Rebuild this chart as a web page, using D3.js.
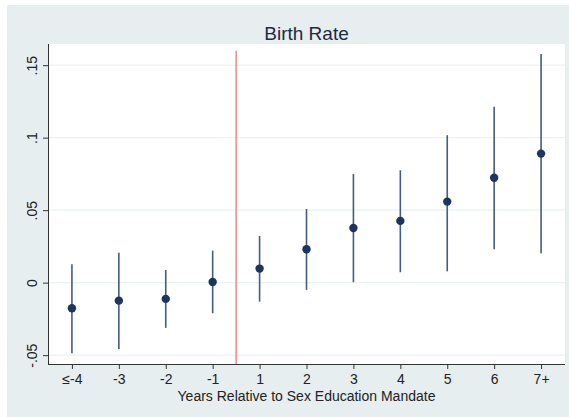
<!DOCTYPE html>
<html>
<head>
<meta charset="utf-8">
<script src="https://cdn.jsdelivr.net/npm/d3@7"></script>
<style>
  html, body { margin: 0; padding: 0; background: #ffffff; }
  svg { display: block; font-family: "Liberation Sans", Arial, sans-serif; }
</style>
</head>
<body>
<svg id="chart" width="569" height="417"></svg>
<script>
// Event-study estimates of the birth rate around a sex education mandate
const categories = ["≤-4", "-3", "-2", "-1", "1", "2", "3", "4", "5", "6", "7+"];
const estimates  = [-0.0177, -0.0124, -0.0112, 0.0005, 0.0097, 0.0230, 0.0377, 0.0426, 0.0559, 0.0724, 0.0890];
const ciLower    = [-0.0487, -0.0457, -0.0312, -0.0211, -0.0131, -0.0050, 0.0003, 0.0072, 0.0078, 0.0230, 0.0203];
const ciUpper    = [0.0127, 0.0207, 0.0088, 0.0221, 0.0322, 0.0508, 0.0750, 0.0775, 0.1017, 0.1214, 0.1577];
const yTicks     = [-0.05, 0, 0.05, 0.1, 0.15];
const yTickLabels = ["-.05", "0", ".05", ".1", ".15"];
const mandateAt  = 3.5;          // boundary between -1 and 1
const mandateTop = 0.16;

const svg = d3.select("#chart");

// graph region background
svg.append("rect")
  .attr("x", 7).attr("y", 5).attr("width", 562).attr("height", 412)
  .attr("fill", "#e6eef0");

const plot = { left: 48, right: 565, top: 44, bottom: 364 };

const x = d3.scaleLinear().domain([-0.51, 10.51]).range([plot.left, plot.right]);
const y = d3.scaleLinear().domain([-0.0561, 0.1646]).range([plot.bottom, plot.top]);

// plot region
svg.append("rect")
  .attr("x", plot.left).attr("y", plot.top)
  .attr("width", plot.right - plot.left).attr("height", plot.bottom - plot.top)
  .attr("fill", "#ffffff");

// horizontal gridlines
svg.append("g").selectAll("line").data(yTicks).join("line")
  .attr("x1", plot.left).attr("x2", plot.right)
  .attr("y1", d => y(d)).attr("y2", d => y(d))
  .attr("stroke", "#eaf2f3").attr("stroke-width", 1.2);

// mandate reference line
svg.append("line")
  .attr("x1", x(mandateAt)).attr("x2", x(mandateAt))
  .attr("y1", y(mandateTop)).attr("y2", plot.bottom)
  .attr("stroke", "#f07f7f").attr("stroke-width", 1.4);

// confidence intervals
const idx = d3.range(categories.length);
svg.append("g").selectAll("line").data(idx).join("line")
  .attr("x1", i => x(i)).attr("x2", i => x(i))
  .attr("y1", i => y(ciLower[i])).attr("y2", i => y(ciUpper[i]))
  .attr("stroke", "#425d84").attr("stroke-width", 1.6);

// point estimates
svg.append("g").selectAll("circle").data(idx).join("circle")
  .attr("cx", i => x(i)).attr("cy", i => y(estimates[i]))
  .attr("r", 4.2)
  .attr("fill", "#1a3660");

// y axis
const yAxis = d3.axisLeft(y)
  .tickValues(yTicks)
  .tickFormat((d, i) => yTickLabels[i])
  .tickSize(5).tickSizeOuter(0);
const gy = svg.append("g").attr("transform", `translate(${plot.left},0)`).call(yAxis);
gy.select(".domain").attr("stroke", "#333").attr("d", `M0.5,${plot.top}V${plot.bottom}`);
gy.selectAll(".tick line").attr("stroke", "#333");
gy.selectAll(".tick text")
  .attr("x", null).attr("dy", null)
  .attr("transform", "translate(-11,0) rotate(-90)")
  .attr("text-anchor", "middle")
  .attr("font-size", 14)
  .attr("fill", "#222")
  .attr("font-family", "Liberation Sans, Arial, sans-serif");

// x axis
const xAxis = d3.axisBottom(x)
  .tickValues(idx)
  .tickFormat(i => categories[i])
  .tickSize(5).tickSizeOuter(0);
const gx = svg.append("g").attr("transform", `translate(0,${plot.bottom})`).call(xAxis);
gx.select(".domain").attr("stroke", "#333").attr("d", `M${plot.left},0.5H${plot.right}`);
gx.selectAll(".tick line").attr("stroke", "#333");
gx.selectAll(".tick text")
  .attr("y", 19.5).attr("dy", null)
  .attr("font-size", 14)
  .attr("fill", "#222")
  .attr("font-family", "Liberation Sans, Arial, sans-serif");

// titles
svg.append("text")
  .attr("x", (plot.left + plot.right) / 2).attr("y", 39.5)
  .attr("text-anchor", "middle")
  .attr("font-size", 19)
  .attr("fill", "#1e2a40")
  .text("Birth Rate");

svg.append("text")
  .attr("x", (plot.left + plot.right) / 2).attr("y", 400.5)
  .attr("text-anchor", "middle")
  .attr("font-size", 14)
  .attr("fill", "#222")
  .text("Years Relative to Sex Education Mandate");
</script>
</body>
</html>
